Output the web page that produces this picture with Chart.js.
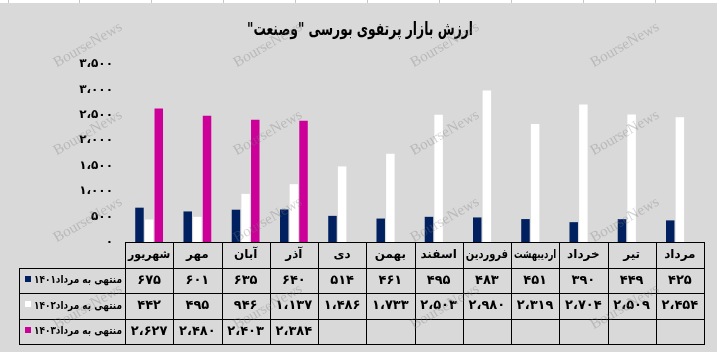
<!DOCTYPE html>
<html><head><meta charset="utf-8">
<script src="https://cdn.jsdelivr.net/npm/chart.js@4"></script>
<style>html,body{margin:0;padding:0;background:#d9d9d9;overflow:hidden}</style>
</head><body>
<canvas id="c" width="717" height="352"></canvas>
<script>
const title = 'ارزش بازار پرتفوی بورسی "وصنعت"';
const categories = ['شهریور','مهر','آبان','آذر','دی','بهمن','اسفند','فروردین','اردیبهشت','خرداد','تیر','مرداد'];
const series1401 = [675,601,635,640,514,461,495,483,451,390,449,425];
const series1402 = [442,495,946,1137,1486,1733,2503,2980,2319,2704,2509,2454];
const series1403 = [2627,2480,2403,2384,null,null,null,null,null,null,null,null];
const seriesLabels = ['منتهی به مرداد۱۴۰۱','منتهی به مرداد۱۴۰۲','منتهی به مرداد۱۴۰۳'];
const seriesColors = ['#002060','#ffffff','#cc0099'];
const yMin = 0, yMax = 3500, yStep = 500;

const FA = '۰۱۲۳۴۵۶۷۸۹';
function faNum(n){
  const s = Math.round(n).toString().replace(/\B(?=(\d{3})+(?!\d))/g, '،');
  return s.replace(/\d/g, d => FA[+d]);
}
const FONT = '"DejaVu Sans", sans-serif';

const bgPlugin = {
  id: 'bg',
  beforeDraw(chart){
    const ctx = chart.ctx;
    ctx.save();
    ctx.fillStyle = '#d9d9d9';
    ctx.fillRect(0,0,chart.width,chart.height);
    ctx.fillStyle = '#ffffff';
    ctx.fillRect(0,0,chart.width,3);
    ctx.strokeStyle = '#c8c8c8';
    ctx.lineWidth = 1;
    for(let x=7.5; x<chart.width; x+=71.9){
      ctx.beginPath(); ctx.moveTo(Math.round(x)+0.5,0); ctx.lineTo(Math.round(x)+0.5,3); ctx.stroke();
    }
    ctx.restore();
  }
};

const tablePlugin = {
  id: 'table',
  afterDraw(chart){
    const ctx = chart.ctx;
    const xs = chart.scales.x;
    const n = categories.length;
    const colW = (xs.right - xs.left)/n;
    const top = Math.round(chart.chartArea.bottom);
    const rowH = 25.5;
    const rows = [top, top+rowH, top+2*rowH, top+3*rowH, top+4*rowH].map(Math.round);
    const leftX = 19;
    ctx.save();
    // title
    ctx.direction = 'rtl';
    ctx.fillStyle = '#000';
    ctx.font = 'bold 18px ' + FONT;
    ctx.textAlign = 'center';
    ctx.textBaseline = 'middle';
    ctx.fillText(title, 360, 30, 226);

    // grid lines
    ctx.strokeStyle = '#000';
    ctx.lineWidth = 1;
    const L = Math.round(xs.left)+0.5, R = Math.round(xs.right)+0.5;
    ctx.beginPath();
    ctx.moveTo(L, rows[0]+0.5); ctx.lineTo(R, rows[0]+0.5);
    for(let r=1;r<rows.length;r++){ ctx.moveTo(leftX+0.5, rows[r]+0.5); ctx.lineTo(R, rows[r]+0.5); }
    for(let i=0;i<=n;i++){
      const bx = Math.round(xs.getPixelForValue(i) - colW/2)+0.5;
      ctx.moveTo(bx, rows[0]); ctx.lineTo(bx, rows[4]+1);
    }
    ctx.moveTo(leftX+0.5, rows[1]); ctx.lineTo(leftX+0.5, rows[4]+1);
    ctx.stroke();

    const data = [series1401, series1402, series1403];
    ctx.textAlign = 'center';
    for(let i=0;i<n;i++){
      const cx = xs.getPixelForValue(i);
      ctx.font = 'bold 12px ' + FONT;
      ctx.fillText(categories[i], cx, (rows[0]+rows[1])/2, colW-6);
      ctx.font = 'bold 13px ' + FONT;
      for(let s=0;s<3;s++){
        const v = data[s][i];
        if(v!==null && v!==undefined) ctx.fillText(faNum(v), cx, (rows[s+1]+rows[s+2])/2, colW-8);
      }
    }
    // row headers
    for(let s=0;s<3;s++){
      const cy = (rows[s+1]+rows[s+2])/2;
      ctx.fillStyle = seriesColors[s];
      ctx.fillRect(25, Math.round(cy)-5, 6, 6);
      ctx.fillStyle = '#000';
      ctx.font = 'bold 11px ' + FONT;
      ctx.textAlign = 'right';
      ctx.fillText(seriesLabels[s], 122, cy, 88);
    }

    // watermarks
    ctx.direction = 'ltr';
    ctx.font = '15px "Liberation Serif", serif';
    ctx.fillStyle = 'rgba(120,120,120,0.33)';
    ctx.textAlign = 'center';
    const wx = [88, 268, 445, 625], wy = [45, 133, 220, 307];
    for(const y of wy) for(const x of wx){
      ctx.save(); ctx.translate(x,y); ctx.rotate(-30*Math.PI/180);
      ctx.fillText('BourseNews', 0, 0); ctx.restore();
    }
    ctx.restore();
  }
};

new Chart(document.getElementById('c'), {
  type: 'bar',
  data: {
    labels: categories,
    datasets: [
      {label: seriesLabels[0], data: series1401, backgroundColor: seriesColors[0]},
      {label: seriesLabels[1], data: series1402, backgroundColor: seriesColors[1]},
      {label: seriesLabels[2], data: series1403, backgroundColor: seriesColors[2]}
    ]
  },
  options: {
    responsive: false,
    devicePixelRatio: 1,
    animation: false,
    layout: {padding: {left: 0, right: 13, top: 64, bottom: 110}},
    datasets: {bar: {categoryPercentage: 0.6, barPercentage: 0.88}},
    plugins: {legend: {display: false}, tooltip: {enabled: false}, title: {display: false}},
    scales: {
      x: {display: false, offset: true},
      y: {
        min: yMin, max: yMax,
        grid: {display: false, drawTicks: false},
        border: {display: false},
        ticks: {stepSize: yStep, padding: 12, color: '#000', font: {family: 'DejaVu Sans', weight: 'bold', size: 12},
                callback: v => faNum(v)},
        afterFit(s){ s.width = 125; }
      }
    }
  },
  plugins: [bgPlugin, tablePlugin]
});
</script>
</body></html>
